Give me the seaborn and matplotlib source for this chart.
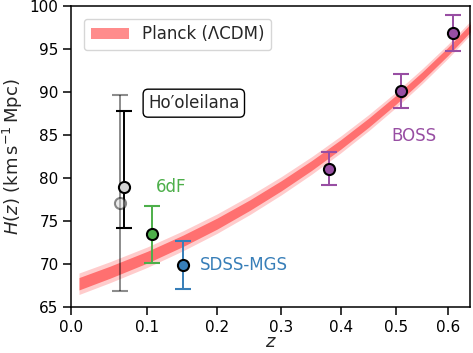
import matplotlib
matplotlib.use('Agg')
import matplotlib.pyplot as plt
import numpy as np
import seaborn as sns

# Planck band
band_z = [0.01, 0.05, 0.10, 0.15, 0.20, 0.25, 0.30, 0.35, 0.40, 0.45, 0.50, 0.55, 0.60, 0.65]
band_h = [67.7, 69.05, 70.8, 72.7, 74.7, 76.85, 79.1, 81.45, 83.9, 86.45, 89.1, 91.85, 94.7, 97.7]
band_in = [0.72, 0.70, 0.68, 0.66, 0.64, 0.61, 0.59, 0.57, 0.55, 0.53, 0.51, 0.49, 0.47, 0.46]
band_out = [1.25, 1.22, 1.19, 1.16, 1.13, 1.10, 1.06, 1.02, 0.98, 0.94, 0.90, 0.86, 0.82, 0.79]

# measurements
hoo_z, hoo_h, hoo_lo, hoo_hi = 0.068, 79.0, 4.85, 8.8
hoo_sys_z, hoo_sys_h, hoo_sys_lo, hoo_sys_hi = 0.063, 77.1, 10.2, 12.5
sixdf_z, sixdf_h, sixdf_err = 0.106, 73.45, 3.35
mgs_z, mgs_h, mgs_err = 0.150, 69.9, 2.75
boss_z = [0.38, 0.51, 0.61]
boss_h = [81.1, 90.1, 96.9]
boss_err = [1.95, 2.0, 2.1]

sns.set_theme(style='ticks')
plt.rcParams['font.family'] = ['DejaVu Sans']
plt.rcParams['mathtext.fontset'] = 'dejavusans'

pal = sns.color_palette('Set1')
red, blue, green, purple = pal[0], pal[1], pal[2], pal[3]

fig, ax = plt.subplots(figsize=(4.73, 3.53), dpi=100)
fig.subplots_adjust(left=71/473, right=470/473, top=1-6/353, bottom=1-307/353)

ax.set_xscale('function', functions=(np.log1p, np.expm1))

bz = np.array(band_z)
bh = np.array(band_h)
ax.fill_between(bz, bh - np.array(band_out), bh + np.array(band_out),
                color='red', alpha=0.2, lw=0, zorder=1)
ax.fill_between(bz, bh - np.array(band_in), bh + np.array(band_in),
                color='red', alpha=0.45, lw=0, zorder=1, label='Planck (ΛCDM)')

eb = dict(capsize=6, elinewidth=1.4, capthick=1.4, markersize=8,
          markeredgewidth=1.5, markeredgecolor='black', fmt='o', zorder=3)

# Ho'oleilana (grey = with systematics)
ax.errorbar(hoo_sys_z, hoo_sys_h, yerr=[[hoo_sys_lo], [hoo_sys_hi]], color='black',
            markerfacecolor='lightgray', alpha=0.45, **eb)
ax.errorbar(hoo_z, hoo_h, yerr=[[hoo_lo], [hoo_hi]], color='black',
            markerfacecolor='lightgray', **eb)

ax.errorbar(sixdf_z, sixdf_h, yerr=sixdf_err, color=green, markerfacecolor=green, **eb)
ax.errorbar(mgs_z, mgs_h, yerr=mgs_err, color=blue, markerfacecolor=blue, **eb)
ax.errorbar(boss_z, boss_h, yerr=boss_err, color=purple, markerfacecolor=purple, **eb)

ax.text(0.101, 88.7, 'Ho\u2032oleilana', fontsize=12, ha='left', va='center',
        bbox=dict(boxstyle='round,pad=0.3', facecolor='white', edgecolor='black', lw=1))
ax.text(0.111, 78.9, '6dF', fontsize=12, color=green, ha='left', va='center')
ax.text(0.175, 69.9, 'SDSS-MGS', fontsize=12, color=blue, ha='left', va='center')
ax.text(0.534, 84.9, 'BOSS', fontsize=12, color=purple, ha='center', va='center')

ax.set_xlim(0, 0.645)
ax.set_ylim(65, 100)
ax.set_xticks([0.0, 0.1, 0.2, 0.3, 0.4, 0.5, 0.6])
ax.set_xticklabels(['0.0', '0.1', '0.2', '0.3', '0.4', '0.5', '0.6'])
ax.set_yticks(np.arange(65, 101, 5))
ax.minorticks_off()
ax.set_xlabel('$z$', fontsize=13, labelpad=-1)
ax.set_ylabel('$H(z)\\ (\\mathrm{km\\,s^{-1}\\,Mpc})$', fontsize=13, labelpad=3)

ax.tick_params(axis='both', labelsize=11, length=6, width=1.1, pad=3,
               color='black', labelcolor='black')
for s in ax.spines.values():
    s.set_visible(True)
    s.set_linewidth(1.1)
    s.set_color('black')

ax.legend(loc='upper left', fontsize=12, handlelength=2.3, frameon=True,
          bbox_to_anchor=(0.02, 0.975), borderaxespad=0.3)

fig.savefig('out.png', dpi=100)
